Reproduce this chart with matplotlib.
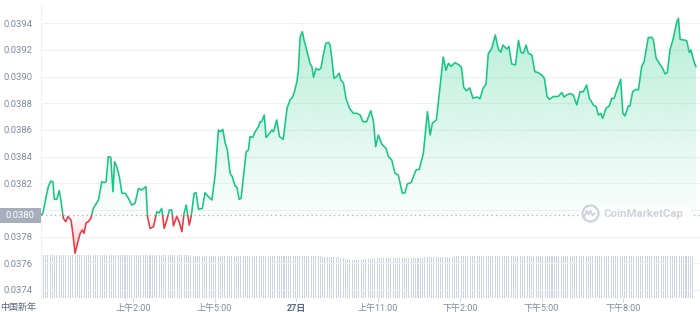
import numpy as np
import matplotlib
matplotlib.use('Agg')
import matplotlib.pyplot as plt
from matplotlib.patches import Rectangle
from matplotlib.ticker import FormatStrFormatter
from matplotlib.transforms import blended_transform_factory
from matplotlib.colors import to_rgb

plt.rcParams['font.family'] = ['Roboto', 'Noto Sans CJK SC', 'DejaVu Sans']

# price, hours relative to 00:00 of the 26th (chart time axis)
hours = [-1.37, -1.30, -1.19, -1.10, -1.01, -0.93, -0.88, -0.79, -0.70, -0.64,
         -0.55, -0.46, -0.38, -0.27, -0.20, -0.12, -0.03, 0.07, 0.15, 0.21,
         0.29, 0.37, 0.46, 0.55, 0.68, 0.74, 0.86, 0.95, 1.02, 1.10,
         1.19, 1.27, 1.33, 1.41, 1.50, 1.60, 1.72, 1.84, 1.96, 2.08,
         2.21, 2.33, 2.48, 2.54, 2.63, 2.76, 2.88, 2.96, 3.06, 3.15,
         3.25, 3.34, 3.43, 3.49, 3.61, 3.70, 3.80, 3.88, 3.96, 4.07,
         4.14, 4.25, 4.32, 4.41, 4.55, 4.65, 4.77, 4.90, 5.02, 5.14,
         5.22, 5.30, 5.39, 5.47, 5.57, 5.65, 5.75, 5.82, 5.90, 5.97,
         6.06, 6.16, 6.24, 6.30, 6.40, 6.49, 6.61, 6.67, 6.73, 6.82,
         6.89, 6.97, 7.10, 7.16, 7.28, 7.38, 7.52, 7.66, 7.77, 7.87,
         7.93, 8.02, 8.07, 8.14, 8.22, 8.28, 8.38, 8.50, 8.57, 8.63,
         8.72, 8.81, 8.90, 8.99, 9.08, 9.18, 9.24, 9.30, 9.38, 9.48,
         9.57, 9.63, 9.73, 9.82, 9.95, 10.09, 10.22, 10.34, 10.44, 10.58,
         10.73, 10.83, 10.91, 11.01, 11.13, 11.29, 11.38, 11.50, 11.62, 11.74,
         11.89, 11.99, 12.07, 12.21, 12.39, 12.51, 12.66, 12.81, 12.91, 12.99,
         13.14, 13.27, 13.39, 13.49, 13.58, 13.68, 13.82, 13.98, 14.06, 14.14,
         14.24, 14.36, 14.48, 14.63, 14.74, 14.85, 14.96, 15.04, 15.17, 15.30,
         15.41, 15.50, 15.58, 15.72, 15.80, 15.90, 16.04, 16.15, 16.24, 16.33,
         16.43, 16.51, 16.64, 16.75, 16.87, 17.00, 17.10, 17.20, 17.28, 17.43,
         17.61, 17.74, 17.82, 17.92, 18.04, 18.16, 18.29, 18.41, 18.53, 18.65,
         18.75, 18.90, 19.00, 19.08, 19.17, 19.24, 19.36, 19.48, 19.57, 19.66,
         19.76, 19.90, 19.98, 20.06, 20.18, 20.24, 20.34, 20.46, 20.55, 20.67,
         20.76, 20.91, 21.04, 21.10, 21.20, 21.32, 21.44, 21.53, 21.61, 21.71,
         21.83, 21.96, 22.02, 22.08, 22.20, 22.32, 22.42, 22.48, 22.59, 22.66]

prices = [0.037962, 0.037975, 0.038090, 0.038175, 0.038217, 0.038210, 0.038080, 0.038080, 0.038145, 0.038075,
          0.037938, 0.037912, 0.037950, 0.037925, 0.037825, 0.037675, 0.037750, 0.037825, 0.037850, 0.037825,
          0.037905, 0.037912, 0.037938, 0.038012, 0.038055, 0.038075, 0.038212, 0.038205, 0.038212, 0.038400,
          0.038395, 0.038137, 0.038362, 0.038325, 0.038255, 0.038125, 0.038125, 0.038087, 0.038037, 0.038050,
          0.038162, 0.038150, 0.038175, 0.037950, 0.037862, 0.037875, 0.037987, 0.037977, 0.038012, 0.037862,
          0.037925, 0.038000, 0.038000, 0.037880, 0.037950, 0.037912, 0.037837, 0.037975, 0.038037, 0.037887,
          0.037950, 0.038125, 0.038130, 0.038005, 0.038012, 0.038130, 0.038100, 0.038075, 0.038262, 0.038600,
          0.038587, 0.038605, 0.038500, 0.038450, 0.038275, 0.038250, 0.038180, 0.038170, 0.038080, 0.038087,
          0.038250, 0.038437, 0.038450, 0.038550, 0.038545, 0.038587, 0.038625, 0.038662, 0.038662, 0.038712,
          0.038544, 0.038562, 0.038600, 0.038587, 0.038675, 0.038550, 0.038530, 0.038765, 0.038825, 0.038850,
          0.038887, 0.038962, 0.039037, 0.039300, 0.039337, 0.039275, 0.039200, 0.039100, 0.039075, 0.038995,
          0.039062, 0.039050, 0.039062, 0.039162, 0.039250, 0.039255, 0.039237, 0.039137, 0.038987, 0.039000,
          0.039025, 0.038975, 0.038950, 0.038837, 0.038762, 0.038725, 0.038725, 0.038712, 0.038662, 0.038662,
          0.038745, 0.038662, 0.038475, 0.038562, 0.038495, 0.038462, 0.038400, 0.038375, 0.038275, 0.038262,
          0.038125, 0.038130, 0.038195, 0.038205, 0.038300, 0.038305, 0.038425, 0.038737, 0.038562, 0.038650,
          0.038677, 0.038925, 0.039147, 0.039047, 0.039100, 0.039077, 0.039105, 0.039087, 0.039068, 0.038919,
          0.038894, 0.038916, 0.038837, 0.038847, 0.038834, 0.038912, 0.038945, 0.039170, 0.039212, 0.039312,
          0.039207, 0.039183, 0.039237, 0.039207, 0.039227, 0.039095, 0.039087, 0.039272, 0.039183, 0.039175,
          0.039237, 0.039175, 0.039162, 0.039037, 0.039030, 0.039012, 0.038987, 0.038850, 0.038830, 0.038851,
          0.038851, 0.038881, 0.038847, 0.038862, 0.038874, 0.038862, 0.038787, 0.038887, 0.038887, 0.038937,
          0.038837, 0.038787, 0.038775, 0.038712, 0.038725, 0.038687, 0.038762, 0.038780, 0.038837, 0.038837,
          0.038900, 0.038980, 0.038725, 0.038705, 0.038780, 0.038780, 0.038887, 0.038905, 0.038900, 0.039075,
          0.039112, 0.039292, 0.039295, 0.039275, 0.039137, 0.039100, 0.039062, 0.039020, 0.039030, 0.039200,
          0.039287, 0.039412, 0.039437, 0.039280, 0.039275, 0.039270, 0.039180, 0.039200, 0.039112, 0.039075]

baseline = 0.03796   # opening price of the period
baseline_label = '0.0380'

# 5-minute volume bars (relative height), one row per hour
vol_start = -1.37
volume = [43, 43, 43, 43, 43, 43, 43, 43, 43, 43, 43, 43,
          43, 43, 43, 43, 43, 43, 43, 43, 43, 43, 43, 43,
          43, 43, 43, 43, 43, 43, 43, 43, 43, 43, 43, 43,
          43, 43, 43, 43, 43, 43, 43, 43, 43, 43, 43, 43,
          43, 43, 43, 43, 43, 43, 43, 43, 43, 43, 43, 43,
          43, 43, 43, 43, 43, 43, 42, 42, 42, 42, 42, 42,
          42, 42, 42, 42, 42, 42, 42, 42, 42, 42, 42, 42,
          42, 42, 42, 42, 42, 42, 42, 42, 42, 42, 42, 42,
          42, 42, 42, 42, 42, 42, 42, 42, 42, 42, 42, 42,
          42, 42, 42, 42, 42, 42, 42, 42, 42, 42, 42, 42,
          42, 42, 42, 42, 41, 41, 41, 41, 41, 41, 41, 41,
          40, 40, 39, 39, 38, 38, 38, 38, 38, 38, 39, 39,
          39, 39, 39, 40, 40, 40, 40, 40, 40, 40, 40, 40,
          40, 40, 40, 40, 40, 40, 40, 40, 40, 40, 40, 40,
          40, 41, 41, 41, 41, 41, 41, 41, 41, 41, 41, 41,
          41, 41, 42, 42, 42, 42, 42, 42, 42, 42, 42, 42,
          42, 42, 42, 42, 42, 42, 42, 42, 42, 42, 42, 42,
          42, 42, 42, 42, 42, 42, 42, 42, 42, 42, 42, 42,
          42, 42, 42, 42, 42, 42, 42, 42, 42, 42, 42, 42,
          42, 42, 42, 42, 42, 42, 42, 42, 42, 42, 42, 42,
          42, 42, 42, 42, 42, 42, 42, 42, 42, 42, 42, 42,
          42, 42, 42, 42, 42, 42, 42, 42, 42, 42, 42, 42,
          42, 42, 42, 42, 42, 42, 42, 42, 42, 42, 42, 42,
          42, 42, 42, 42, 42, 42, 42, 42, 42, 42, 42, 42]

tick_hours = [2, 5, 8, 11, 14, 17, 20]
tick_labels = ['上午2:00', '上午5:00', '27日', '上午11:00', '下午2:00', '下午5:00', '下午8:00']
day_label = '中国新年'
day_label_hour = -2.21
y_ticks = [0.0374, 0.0376, 0.0378, 0.0380, 0.0382, 0.0384, 0.0386, 0.0388, 0.0390, 0.0392, 0.0394]

GREEN = '#16c784'
RED = '#ea3943'
GREY = '#808a9d'
xlim = (-1.38, 22.81)
ylim = (0.03734, 0.039537)


def gradient(color, a_low, a_high):
    rgba = np.zeros((256, 1, 4))
    rgba[..., :3] = to_rgb(color)
    rgba[:, 0, 3] = np.linspace(a_low, a_high, 256)
    return rgba


def main():
    fig = plt.figure(figsize=(7, 3.12), dpi=100)
    left, bottom, width = 40.7 / 700, 14 / 312, 659.3 / 700

    # volume strip at the bottom
    axv = fig.add_axes([left, bottom, width, 45 / 312])
    vt = vol_start + np.arange(len(volume)) / 12
    axv.bar(vt, volume, width=0.45 / 12, color='#ccd3e2', linewidth=0)
    axv.set_xlim(*xlim)
    axv.set_ylim(0, 45)
    axv.axis('off')

    ax = fig.add_axes([left, bottom, width, 293 / 312])
    ax.set_facecolor('none')
    x = np.array(hours)
    y = np.array(prices)

    # gradient fills between the line and the baseline
    poly = ax.fill_between(x, y, baseline, facecolor='none', edgecolor='none')
    clip = poly.get_paths()[0]
    im_g = ax.imshow(gradient(GREEN, 0.02, 0.33), extent=[x[0], x[-1], baseline, ylim[1]],
                     origin='lower', aspect='auto', interpolation='bilinear', zorder=1)
    im_g.set_clip_path(clip, transform=ax.transData)
    im_r = ax.imshow(gradient(RED, 0.28, 0.02), extent=[x[0], x[-1], 0.03765, baseline],
                     origin='lower', aspect='auto', interpolation='bilinear', zorder=1)
    im_r.set_clip_path(clip, transform=ax.transData)

    # line: green above the baseline, red below
    for color, y0, y1 in [(GREEN, baseline, ylim[1]), (RED, ylim[0], baseline)]:
        line, = ax.plot(x, y, color=color, lw=1.15, solid_joinstyle='round', zorder=3)
        line.set_clip_path(Rectangle((xlim[0], y0), xlim[1] - xlim[0], y1 - y0,
                                     transform=ax.transData))

    ax.axhline(baseline, color='#a6b0c3', lw=0.9, ls=(0, (1, 2.6)), zorder=2)

    ax.set_xlim(*xlim)
    ax.set_ylim(*ylim)
    ax.set_yticks(y_ticks)
    ax.yaxis.set_major_formatter(FormatStrFormatter('%.4f'))
    ax.yaxis.grid(True, color='#eff2f5', lw=0.8)
    ax.set_axisbelow(True)
    ax.tick_params(axis='y', length=0, pad=6, labelsize=6.8, labelcolor=GREY)
    # the 0.0380 gridline label sits under the baseline price tag
    ax.get_yticklabels()[3].set_visible(False)
    ax.set_xticks(tick_hours, tick_labels)
    ax.tick_params(axis='x', length=3, width=0.8, color='#cfd6e4', pad=1,
                   labelsize=6.5, labelcolor=GREY)
    lab = ax.get_xticklabels()[2]
    lab.set_fontweight('bold')
    lab.set_color('#58667e')
    for s in ['top', 'right', 'bottom']:
        ax.spines[s].set_visible(False)
    ax.spines['left'].set_color('#eff2f5')

    bt = blended_transform_factory(ax.transData, ax.transAxes)
    ax.text(day_label_hour, -0.032, day_label, transform=bt, ha='center', va='center',
            fontsize=6.5, color='#58667e')

    # baseline price tag on the y axis
    yt = ax.get_yaxis_transform()
    ax.add_patch(Rectangle((-0.0617, baseline - 0.000056), 0.0617, 0.000112, transform=yt,
                           facecolor='#a7aebb', edgecolor='none', clip_on=False, zorder=5))
    ax.text(-0.031, baseline, baseline_label, transform=yt, ha='center', va='center',
            fontsize=6.8, color='white', zorder=6)

    # watermark
    ax.add_patch(Rectangle((0.816, 0.262), 0.17, 0.05, transform=ax.transAxes,
                           facecolor='white', edgecolor='none', alpha=0.9, zorder=2.5))
    ax.plot([0.8324], [0.2884], 'o', ms=11.5, mfc='white', mec='#cdd3de', mew=1.6,
            transform=ax.transAxes, zorder=4)
    cx, cy = 0.8324, 0.2884
    wx = [cx - 5 / 659.3, cx - 3 / 659.3, cx - 1 / 659.3, cx + 1 / 659.3, cx + 3 / 659.3, cx + 5 / 659.3]
    wy = [cy - 3 / 293, cy + 3 / 293, cy - 1 / 293, cy + 3 / 293, cy - 2 / 293, cy + 0 / 293]
    ax.plot(wx, wy, color='#cdd3de', lw=1.3, transform=ax.transAxes, zorder=4)
    ax.text(0.8529, 0.2867, 'CoinMarketCap', transform=ax.transAxes, ha='left', va='center',
            fontsize=8.2, fontweight='bold', color='#cdd3de', zorder=4)

    fig.savefig('out.png', dpi=100)


if __name__ == '__main__':
    main()
